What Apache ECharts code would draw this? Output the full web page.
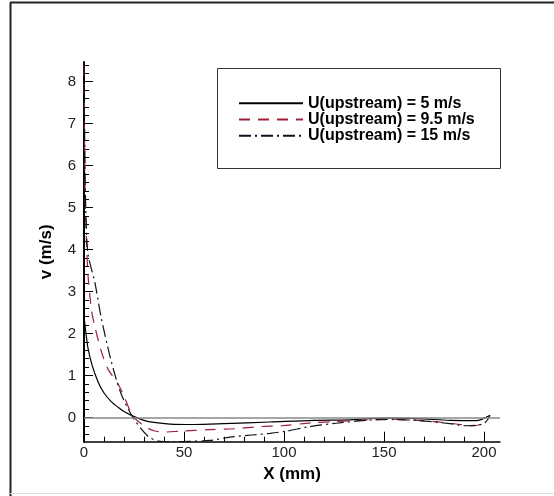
<!DOCTYPE html>
<html>
<head>
<meta charset="utf-8">
<script src="https://cdn.jsdelivr.net/npm/echarts@6/dist/echarts.min.js"></script>
<style>
html,body{margin:0;padding:0;background:#fff;}
#c{width:554px;height:496px;}
</style>
</head>
<body>
<div id="c"></div>
<script>
// ---- data ----
var seriesNames = ['U(upstream) = 5 m/s', 'U(upstream) = 9.5 m/s', 'U(upstream) = 15 m/s'];

var u5 = [[0,2.4],[1,2.0],[2,1.65],[4,1.25],[7,0.85],[10,0.58],[13.5,0.38],[17,0.24],[20,0.14],[24.5,0.03],[30,-0.07],[35,-0.12],[43,-0.16],[55,-0.17],[70,-0.15],[93,-0.11],[115,-0.07],[133,-0.06],[143,-0.03],[150,-0.02],[166,-0.03],[183,-0.07],[196,-0.08],[203,0.05]];

var u95 = [[0,8.4],[0.5,5.5],[1,4.5],[2,3.4],[3.7,2.57],[5,2.25],[8.5,1.6],[12,1.15],[17,0.8],[20,0.5],[24.5,0.03],[30,-0.2],[35,-0.32],[40,-0.35],[48,-0.33],[63,-0.29],[76,-0.27],[88,-0.22],[99,-0.2],[114,-0.13],[126,-0.1],[139,-0.07],[155,-0.05],[175,-0.1],[188,-0.17],[195,-0.2],[201,-0.12]];

var u15 = [[0,8.45],[0.5,6.0],[1,4.8],[2,3.9],[5.5,3.2],[8.5,2.4],[13.5,1.36],[18.5,0.57],[24.5,0.0],[32,-0.45],[38,-0.57],[45,-0.58],[53,-0.57],[63,-0.55],[73,-0.47],[84,-0.42],[93,-0.38],[101,-0.33],[113,-0.22],[126,-0.14],[139,-0.08],[150,-0.05],[166,-0.07],[183,-0.15],[191,-0.2],[200,-0.15],[203,0.05]];

var xMajorTicks = [0, 50, 100, 150, 200];
var xMinorTicks = [10,20,30,40,60,70,80,90,110,120,130,140,160,170,180,190];
var yMajorTicks = [0,1,2,3,4,5,6,7,8];
var yMinorTicks = [];
for (var k = -2; k <= 42; k++) { if (k % 5 !== 0) yMinorTicks.push(+(k * 0.2).toFixed(1)); }

var X_MIN = 0, X_MAX = 208, Y_MIN = -0.58, Y_MAX = 8.47;

var chart = echarts.init(document.getElementById('c'), null, {renderer: 'canvas'});
var FONT = 'Liberation Sans, Arial, sans-serif';

var option = {
  backgroundColor: '#ffffff',
  animation: false,
  grid: {left: 84, top: 62, right: 54, bottom: 54.3, containLabel: false},
  legend: {
    orient: 'vertical',
    left: 238, top: 95.2, padding: 0,
    itemWidth: 64, itemHeight: 14, itemGap: 0.3,
    itemStyle: {color: 'transparent', borderWidth: 0, opacity: 0},
    textStyle: {fontFamily: FONT, fontSize: 16, lineHeight: 15, fontWeight: 'bold', color: '#000'},
    data: seriesNames
  },
  graphic: [
    {type: 'rect', shape: {x: 217.5, y: 68.5, width: 283, height: 100}, style: {fill: 'none', stroke: '#333', lineWidth: 1}, z: 1},
    {type: 'line', shape: {x1: 10.5, y1: 2.5, x2: 10.5, y2: 496}, style: {stroke: '#222', lineWidth: 2}},
    {type: 'line', shape: {x1: 10, y1: 2.5, x2: 554, y2: 2.5}, style: {stroke: '#222', lineWidth: 2}},
    {type: 'line', shape: {x1: 10, y1: 493.5, x2: 554, y2: 493.5}, style: {stroke: '#ddd', lineWidth: 1}}
  ],
  xAxis: [{
    type: 'value', min: X_MIN, max: X_MAX,
    name: 'X (mm)', nameLocation: 'middle', nameGap: 21,
    nameTextStyle: {fontFamily: FONT, fontSize: 17, fontWeight: 'bold', color: '#000'},
    axisLine: {show: true, onZero: false, lineStyle: {color: '#000', width: 1.5}},
    axisTick: {show: true, inside: true, length: 10, customValues: xMajorTicks, lineStyle: {color: '#000', width: 1}},
    axisLabel: {show: true, margin: 4, customValues: xMajorTicks, fontFamily: FONT, fontSize: 15, color: '#222'},
    splitLine: {show: false}
  }, {
    type: 'value', min: X_MIN, max: X_MAX, position: 'bottom', gridIndex: 0,
    axisLine: {show: false, onZero: false},
    axisTick: {show: true, inside: true, length: 5, customValues: xMinorTicks, lineStyle: {color: '#000', width: 1}},
    axisLabel: {show: false},
    splitLine: {show: false}
  }],
  yAxis: [{
    type: 'value', min: Y_MIN, max: Y_MAX,
    name: 'v (m/s)', nameLocation: 'middle', nameGap: 29, nameRotate: 90,
    nameTextStyle: {fontFamily: FONT, fontSize: 17, fontWeight: 'bold', color: '#000'},
    axisLine: {show: true, onZero: false, lineStyle: {color: '#000', width: 2}},
    axisTick: {show: true, inside: true, length: 9, customValues: yMajorTicks, lineStyle: {color: '#000', width: 1}},
    axisLabel: {show: true, margin: 8, customValues: yMajorTicks, fontFamily: FONT, fontSize: 15, color: '#222'},
    splitLine: {show: false}
  }, {
    type: 'value', min: Y_MIN, max: Y_MAX, position: 'left', gridIndex: 0,
    axisLine: {show: false, onZero: false},
    axisTick: {show: true, inside: true, length: 5, customValues: yMinorTicks, lineStyle: {color: '#000', width: 1}},
    axisLabel: {show: false},
    splitLine: {show: false}
  }],
  series: [
    {
      name: seriesNames[0], type: 'line', data: u5, smooth: 0.3, symbol: 'none', clip: true,
      xAxisIndex: 0, yAxisIndex: 0,
      lineStyle: {color: '#000', width: 1.2, type: 'solid'},
      itemStyle: {color: '#000'},
      markLine: {
        silent: true, symbol: 'none', label: {show: false},
        lineStyle: {color: '#888', width: 1.5, type: 'solid'},
        data: [{yAxis: 0}]
      },
      z: 3
    },
    {
      name: seriesNames[1], type: 'line', data: u95, smooth: 0.3, symbol: 'none', clip: true,
      lineStyle: {color: '#a0203a', width: 1.2, type: [11, 8]},
      itemStyle: {color: '#a0203a'},
      z: 3
    },
    {
      name: seriesNames[2], type: 'line', data: u15, smooth: 0.3, symbol: 'none', clip: true,
      lineStyle: {color: '#111122', width: 1.2, type: [12, 4, 2, 4]},
      itemStyle: {color: '#111122'},
      z: 3
    }
  ]
};
chart.setOption(option);
</script>
</body>
</html>
